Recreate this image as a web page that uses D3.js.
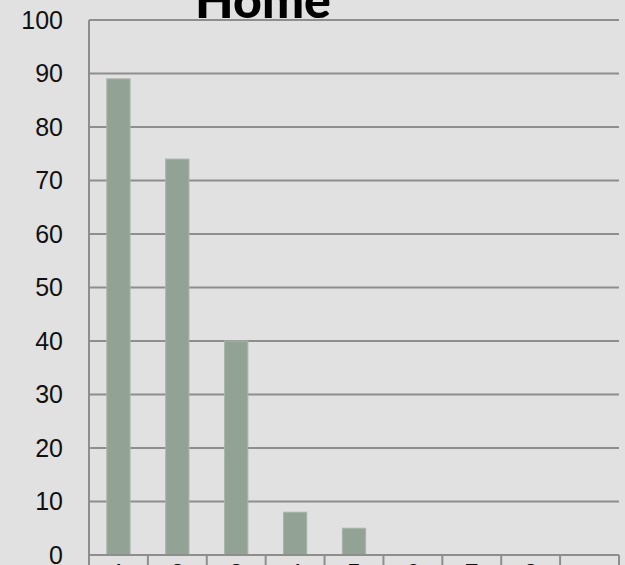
<!DOCTYPE html>
<html>
<head>
<meta charset="utf-8">
<script src="https://cdn.jsdelivr.net/npm/d3@7"></script>
<style>
  html, body { margin: 0; padding: 0; background: #e1e1e1; }
  svg { display: block; }
  .tick text { font-family: "Liberation Sans", Arial, sans-serif; }
</style>
</head>
<body>
<svg id="chart" width="625" height="565"></svg>
<script>
// Chart data
const categories = ["1", "2", "3", "4", "5", "6", "7", "8", ""];
const values = [89, 74, 40, 8, 5, 0, 0, 0, 0];
const yTicks = [0, 10, 20, 30, 40, 50, 60, 70, 80, 90, 100];
const title = "Home";

const W = 625, H = 565;
const plot = { left: 89, right: 619, top: 20, bottom: 555 };

const svg = d3.select("#chart");

svg.append("rect")
  .attr("width", W).attr("height", H)
  .attr("fill", "#e1e1e1");

const x = d3.scaleBand()
  .domain(categories.map((c, i) => i))
  .range([plot.left, plot.right])
  .padding(0);

const y = d3.scaleLinear()
  .domain([0, 100])
  .range([plot.bottom, plot.top]);

// Horizontal gridlines
svg.append("g")
  .selectAll("line")
  .data(yTicks.filter(d => d > 0))
  .join("line")
  .attr("x1", plot.left).attr("x2", plot.right)
  .attr("y1", d => y(d)).attr("y2", d => y(d))
  .attr("stroke", "#8e8e8e")
  .attr("stroke-width", 2);

// Bars
const barW = x.bandwidth() * 0.395;
svg.append("g")
  .selectAll("rect")
  .data(values)
  .join("rect")
  .attr("x", (d, i) => x(i) + (x.bandwidth() - barW) / 2)
  .attr("y", d => y(d))
  .attr("width", barW)
  .attr("height", d => y(0) - y(d))
  .attr("fill", "#92a396")
  .attr("stroke", "#a6b5a9")
  .attr("stroke-width", 1)
  .attr("display", d => d > 0 ? null : "none");

// Y axis labels
const yAxis = d3.axisLeft(y)
  .tickValues(yTicks)
  .tickSize(0)
  .tickPadding(26)
  .tickFormat(d3.format("d"));

svg.append("g")
  .attr("transform", `translate(${plot.left},0)`)
  .call(yAxis)
  .call(g => g.select(".domain").remove())
  .call(g => g.selectAll("text")
    .attr("font-size", 25)
    .attr("fill", "#111"));

// Vertical axis line
svg.append("line")
  .attr("x1", plot.left).attr("x2", plot.left)
  .attr("y1", plot.top).attr("y2", H + 5)
  .attr("stroke", "#8e8e8e").attr("stroke-width", 2);

// Category axis
const xAxis = d3.axisBottom(x)
  .tickSize(0)
  .tickPadding(9)
  .tickFormat(i => categories[i]);

svg.append("g")
  .attr("transform", `translate(0,${plot.bottom})`)
  .call(xAxis)
  .call(g => g.select(".domain").remove())
  .call(g => g.selectAll("text")
    .attr("font-size", 25)
    .attr("fill", "#111"));

// Category boundary tick marks
const bounds = categories.map((c, i) => x(i)).concat([plot.right]);
svg.append("g")
  .selectAll("line")
  .data(bounds)
  .join("line")
  .attr("x1", d => d).attr("x2", d => d)
  .attr("y1", plot.bottom).attr("y2", H + 5)
  .attr("stroke", "#8e8e8e").attr("stroke-width", 2);

// Horizontal axis line
svg.append("line")
  .attr("x1", plot.left).attr("x2", plot.right)
  .attr("y1", plot.bottom).attr("y2", plot.bottom)
  .attr("stroke", "#8e8e8e").attr("stroke-width", 2);

// Title
svg.append("text")
  .attr("x", 263)
  .attr("y", 18)
  .attr("text-anchor", "middle")
  .attr("font-family", "Lato, 'Liberation Sans', sans-serif")
  .attr("font-weight", 900)
  .attr("font-size", 50)
  .attr("fill", "#000")
  .text(title);
</script>
</body>
</html>
